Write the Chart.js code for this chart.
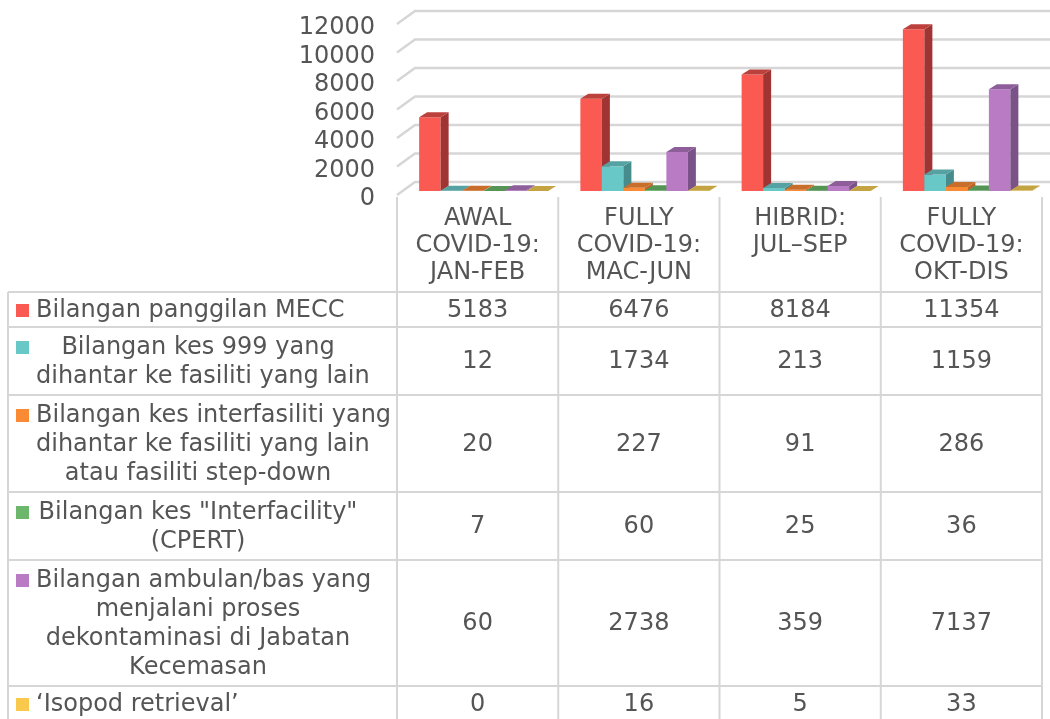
<!DOCTYPE html>
<html>
<head>
<meta charset="utf-8">
<script src="https://cdn.jsdelivr.net/npm/chart.js@4"></script>
<style>
    html, body { margin: 0; padding: 0; background: #fff; }
    canvas { display: block; }
</style>
</head>
<body>
<canvas id="kesChart" width="1050" height="719"></canvas>
<script>
    // data
    var categories = [
        ['AWAL', 'COVID-19:', 'JAN-FEB'],
        ['FULLY', 'COVID-19:', 'MAC-JUN'],
        ['HIBRID:', 'JUL–SEP'],
        ['FULLY', 'COVID-19:', 'OKT-DIS']
    ];
    var seriesNames = [
        ['Bilangan panggilan MECC'],
        ['Bilangan kes 999 yang', 'dihantar ke fasiliti yang lain'],
        ['Bilangan kes interfasiliti yang', 'dihantar ke fasiliti yang lain', 'atau fasiliti step-down'],
        ['Bilangan kes "Interfacility"', '(CPERT)'],
        ['Bilangan ambulan/bas yang', 'menjalani proses', 'dekontaminasi di Jabatan', 'Kecemasan'],
        ['‘Isopod retrieval’']
    ];
    var panggilanMecc = [5183, 6476, 8184, 11354];
    var kes999 = [12, 1734, 213, 1159];
    var kesInterfasiliti = [20, 227, 91, 286];
    var kesCpert = [7, 60, 25, 36];
    var dekontaminasi = [60, 2738, 359, 7137];
    var isopodRetrieval = [0, 16, 5, 33];
    var yTicks = [0, 2000, 4000, 6000, 8000, 10000, 12000];

    var seriesValues = [panggilanMecc, kes999, kesInterfasiliti, kesCpert, dekontaminasi, isopodRetrieval];
    var frontColors = ['#FA5A52', '#68C8C8', '#FA8B34', '#6DB76D', '#B87BC4', '#F9C94E'];
    var sideColors = ['#A03432', '#468C8C', '#BE6428', '#4E8A4E', '#7B5287', '#BE9E3E'];
    var topColors = ['#BC403C', '#56A2A2', '#C86E2A', '#569456', '#8E5E9B', '#C4A442'];

    var FONT = '"DejaVu Sans", Verdana, sans-serif';
    var FSIZE = 24;
    var TEXT = '#555555';
    var LINE = '#D6D6D6';
    var DX = 8, DY = -5, SHIFT = 6;

    Chart.defaults.font.family = FONT;
    Chart.defaults.color = TEXT;

    function drawFaces(ctx, bar, i) {
        var p = bar.getProps(['x', 'y', 'base', 'width'], true);
        var l = p.x - p.width / 2, r = p.x + p.width / 2;
        ctx.fillStyle = sideColors[i];
        ctx.beginPath();
        ctx.moveTo(r, p.y);
        ctx.lineTo(r + DX, p.y + DY);
        ctx.lineTo(r + DX, p.base + DY);
        ctx.lineTo(r, p.base);
        ctx.closePath();
        ctx.fill();
        ctx.fillStyle = topColors[i];
        ctx.beginPath();
        ctx.moveTo(l, p.y);
        ctx.lineTo(l + DX, p.y + DY);
        ctx.lineTo(r + DX, p.y + DY);
        ctx.lineTo(r, p.y);
        ctx.closePath();
        ctx.fill();
    }

    var bar3d = {
        id: 'bar3d',
        beforeDatasetsDraw: function (chart) {
            var ctx = chart.ctx;
            var ys = chart.scales.y;
            var left = chart.chartArea.left;
            // back wall gridlines with a small depth stub at the left
            ctx.save();
            ctx.strokeStyle = LINE;
            ctx.lineWidth = 2.5;
            yTicks.forEach(function (v) {
                var y = ys.getPixelForValue(v);
                ctx.beginPath();
                ctx.moveTo(left, y + 4);
                ctx.lineTo(left + 18, y - 9);
                ctx.lineTo(chart.width, y - 9);
                ctx.stroke();
            });
            ctx.restore();
            // hide the library's own pass; bars are painted below in series order
            ctx.save();
            ctx.globalAlpha = 0;
        },
        afterDatasetsDraw: function (chart) {
            var ctx = chart.ctx;
            ctx.restore();
            ctx.save();
            ctx.translate(SHIFT, 0);
            chart.data.datasets.forEach(function (ds, i) {
                chart.getDatasetMeta(i).data.forEach(function (bar) {
                    bar.draw(ctx);
                    drawFaces(ctx, bar, i);
                });
            });
            ctx.restore();
        },
        afterDraw: function (chart) {
            var ctx = chart.ctx;
            var xs = chart.scales.x;
            var colW = xs.width / categories.length;
            var tableLeft = 8, headTop = 197, bodyTop = 292, bottom = chart.height;
            var rowTops = [bodyTop];
            seriesNames.forEach(function (lines) {
                var n = lines.length;
                var h = n * 29 + (n > 1 ? 10 : 6);
                rowTops.push(rowTops[rowTops.length - 1] + h);
            });

            ctx.save();
            ctx.strokeStyle = LINE;
            ctx.lineWidth = 2;
            ctx.beginPath();
            for (var c = 0; c <= categories.length; c++) {
                var vx = xs.left + c * colW;
                ctx.moveTo(vx, headTop);
                ctx.lineTo(vx, bottom);
            }
            ctx.moveTo(tableLeft, bodyTop);
            ctx.lineTo(tableLeft, bottom);
            rowTops.forEach(function (ry) {
                ctx.moveTo(tableLeft, ry);
                ctx.lineTo(xs.right, ry);
            });
            ctx.stroke();

            ctx.font = FSIZE + 'px ' + FONT;
            ctx.fillStyle = TEXT;
            ctx.textBaseline = 'middle';
            ctx.textAlign = 'center';

            // category headers, top aligned
            categories.forEach(function (lines, ci) {
                var cx = xs.getPixelForValue(ci);
                lines.forEach(function (t, li) {
                    ctx.fillText(t, cx, 219 + li * 27);
                });
            });

            // rows: legend key, series name, values
            seriesNames.forEach(function (lines, si) {
                var top = rowTops[si], h = rowTops[si + 1] - top;
                var first = top + h / 2 - (lines.length - 1) * 29 / 2;
                ctx.fillStyle = frontColors[si];
                ctx.fillRect(16, Math.round(first) - 6, 13, 13);
                ctx.fillStyle = TEXT;
                ctx.textAlign = 'left';
                lines.forEach(function (t, li) {
                    var w = ctx.measureText(t).width;
                    var tx = lines.length === 1 ? 36 : Math.max(36, 198 - w / 2);
                    ctx.fillText(t, tx, first + li * 29 + 1);
                });
                ctx.textAlign = 'center';
                seriesValues[si].forEach(function (v, ci) {
                    ctx.fillText(String(v), xs.getPixelForValue(ci), top + h / 2 + 1);
                });
            });
            ctx.restore();
        }
    };

    var datasets = seriesValues.map(function (vals, i) {
        return {
            label: seriesNames[i].join(' '),
            data: vals,
            backgroundColor: frontColors[i],
            borderWidth: 0,
            categoryPercentage: 0.8,
            barPercentage: 1.0
        };
    });

    new Chart(document.getElementById('kesChart'), {
        type: 'bar',
        data: { labels: categories, datasets: datasets },
        plugins: [bar3d],
        options: {
            responsive: false,
            animation: false,
            layout: { padding: { left: 0, right: 8, top: 20, bottom: 528 } },
            plugins: { legend: { display: false }, tooltip: { enabled: false } },
            scales: {
                x: { display: false },
                y: {
                    min: 0,
                    max: 12000,
                    afterFit: function (scale) {
                        scale.width = 397;
                        scale.paddingTop = 0;
                        scale.paddingBottom = 0;
                    },
                    afterBuildTicks: function (scale) {
                        scale.ticks = yTicks.map(function (v) { return { value: v }; });
                    },
                    grid: { display: false, drawTicks: false },
                    border: { display: false },
                    ticks: {
                        autoSkip: false,
                        padding: 22,
                        labelOffset: 8,
                        color: TEXT,
                        font: { size: FSIZE, family: FONT },
                        callback: function (v) { return String(v); }
                    }
                }
            }
        }
    });
</script>
</body>
</html>
